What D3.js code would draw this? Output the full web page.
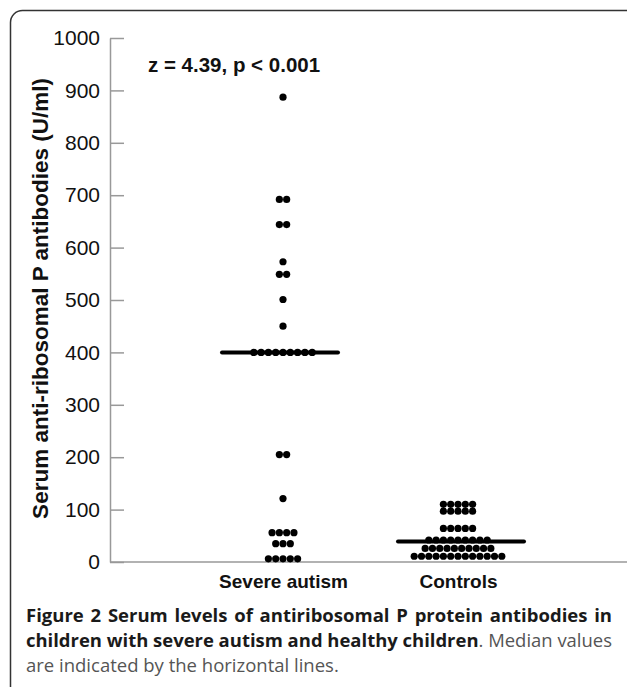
<!DOCTYPE html>
<html>
<head>
<meta charset="utf-8">
<script src="https://cdn.jsdelivr.net/npm/d3@7"></script>
<style>
  body { margin: 0; background: #fff; }
</style>
</head>
<body>
<div id="chart"></div>
<script>
var groups = ["Severe autism", "Controls"];

// one entry per child (U/ml)
var severeValues = [887, 692, 692, 644, 644, 573, 549, 549, 501, 450,
  400, 400, 400, 400, 400, 400, 400, 400, 400,
  205, 205, 121, 56, 56, 56, 56, 35, 35, 35, 6, 6, 6, 6, 6];
var controlValues = [110, 110, 110, 110, 110, 97, 97, 97, 97, 97,
  64, 64, 64, 64, 64,
  42, 42, 42, 42, 42, 42, 42, 42, 42,
  26, 26, 26, 26, 26, 26, 26, 26, 26, 26,
  11, 11, 11, 11, 11, 11, 11, 11, 11, 11, 11, 11, 11];
var medians = [400, 39];
var yTicks = [0, 100, 200, 300, 400, 500, 600, 700, 800, 900, 1000];
var statText = "z = 4.39, p < 0.001";
var yTitle = "Serum anti-ribosomal P antibodies (U/ml)";

var width = 627,
    height = 687;

var svg = d3.select("#chart")
    .append("svg")
    .attr("width", width)
    .attr("height", height)

// rounded frame, cut off on the right and bottom like the page scan
svg.append("rect")
    .attr("x", 10.5)
    .attr("y", 10.5)
    .attr("width", 700)
    .attr("height", 760)
    .attr("rx", 12)
    .attr("fill", "none")
    .attr("stroke", "#333")
    .attr("stroke-width", 1.5)

var y = d3.scaleLinear().domain([0, 1000]).range([562, 38])
var x = d3.scalePoint().domain(groups).range([283, 458])

var yAxis = svg.append("g")
    .attr("transform", "translate(110,0)")
    .call(d3.axisLeft(y).tickValues(yTicks).tickFormat(d3.format("d"))
        .tickSizeInner(-14).tickSizeOuter(0).tickPadding(10))

yAxis.selectAll("path, line").attr("stroke", "#999").attr("stroke-width", 1.5)
yAxis.selectAll("text")
    .attr("fill", "#111")
    .style("font", "21px 'Liberation Sans', Arial, sans-serif")

// x baseline runs across to the frame edge
svg.append("line")
    .attr("x1", 110)
    .attr("x2", width)
    .attr("y1", y(0))
    .attr("y2", y(0))
    .attr("stroke", "#999")
    .attr("stroke-width", 1.5)

var xAxis = svg.append("g")
    .attr("transform", "translate(0," + y(0) + ")")
    .call(d3.axisBottom(x).tickSize(0).tickPadding(13))
xAxis.select(".domain").remove()
xAxis.selectAll("text")
    .attr("fill", "#111")
    .style("font", "bold 19px 'Liberation Sans', Arial, sans-serif")

svg.append("text")
    .attr("transform", "translate(48," + y(503) + ") rotate(-90)")
    .attr("text-anchor", "middle")
    .attr("fill", "#111")
    .style("font", "bold 22.5px 'Liberation Sans', Arial, sans-serif")
    .text(yTitle)

svg.append("text")
    .attr("x", 148)
    .attr("y", 72)
    .attr("fill", "#111")
    .style("font", "bold 20.5px 'Liberation Sans', Arial, sans-serif")
    .text(statText)

// dots: equal values sit side by side in a row
var step = 7.3;
var dots = [];
[severeValues, controlValues].forEach(function(vals, gi) {
    d3.group(vals, function(v) { return v; }).forEach(function(row, v) {
        row.forEach(function(_, i) {
            dots.push({ group: groups[gi], value: v, offset: (i - (row.length - 1) / 2) * step });
        })
    })
})

svg.selectAll(".dot")
    .data(dots)
    .enter().append("circle")
    .attr("class", "dot")
    .attr("cx", function(d) { return x(d.group) + d.offset; })
    .attr("cy", function(d) { return y(d.value); })
    .attr("r", 3.6)
    .attr("fill", "#000")

svg.selectAll(".median")
    .data(medians)
    .enter().append("line")
    .attr("class", "median")
    .attr("x1", function(d, i) { return x(groups[i]) - (i ? 60 : 61); })
    .attr("x2", function(d, i) { return x(groups[i]) + (i ? 66 : 55); })
    .attr("y1", function(d) { return y(d); })
    .attr("y2", function(d) { return y(d); })
    .attr("stroke", "#000")
    .attr("stroke-width", 4)
    .attr("stroke-linecap", "round")

// caption, justified between left and right margins
var capLeft = 26, capRight = 612, capSize = 18.5;
var capLines = [
    [["Figure 2 Serum levels of antiribosomal P protein antibodies in", true]],
    [["children with severe autism and healthy children", true], [". Median values", false]],
    [["are indicated by the horizontal lines.", false]]
];
var capY = [622, 647, 672];

capLines.forEach(function(parts, li) {
    var t = svg.append("text")
        .attr("x", capLeft)
        .attr("y", capY[li])
        .style("font-family", "'Open Sans', 'Noto Sans', sans-serif")
        .style("font-size", capSize + "px")
    parts.forEach(function(p) {
        t.append("tspan")
            .attr("font-weight", p[1] ? "bold" : "normal")
            .attr("fill", p[1] ? "#1a1a1a" : "#555")
            .text(p[0])
    })
    if (li < capLines.length - 1) {
        var w = t.node().getComputedTextLength();
        var spaces = parts.map(function(p) { return p[0]; }).join("").split(" ").length - 1;
        var extra = (capRight - capLeft - w) / spaces;
        if (extra < 0) {
            t.attr("textLength", capRight - capLeft).attr("lengthAdjust", "spacingAndGlyphs")
        } else {
            t.attr("word-spacing", extra)
        }
    }
})
</script>
</body>
</html>
